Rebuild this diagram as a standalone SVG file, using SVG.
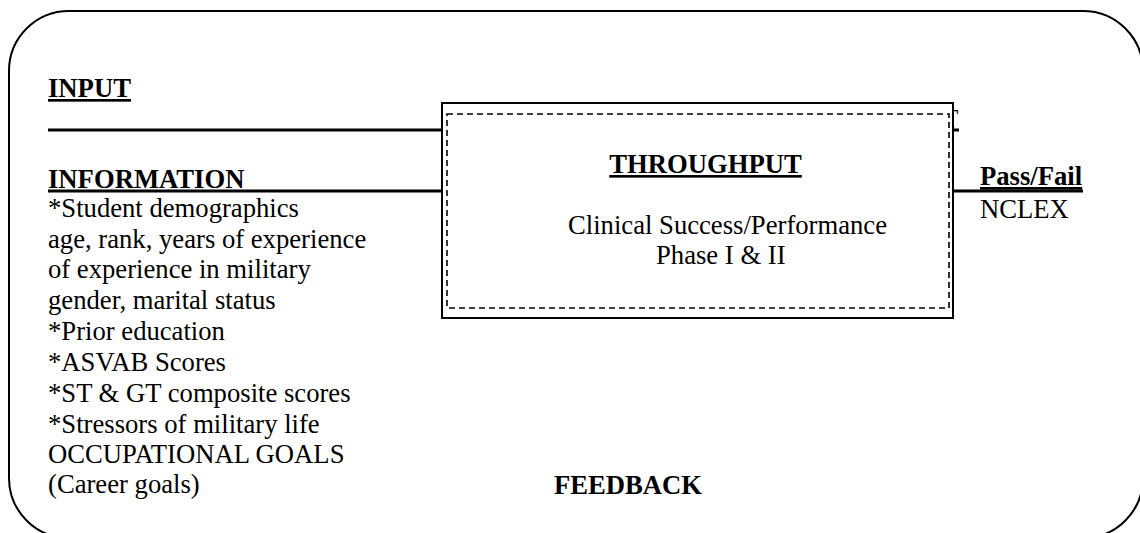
<svg xmlns="http://www.w3.org/2000/svg" width="1140" height="533" viewBox="0 0 1140 533" font-family="'Liberation Serif', 'Times New Roman', serif" font-size="26.67">
<style>
text{font-family:'Liberation Serif','Times New Roman',Times,serif;font-size:26.67px;fill:#000}
.b{font-weight:bold}
.u{text-decoration:underline}
.ln{stroke:#000;stroke-width:3;fill:none}
</style>
<rect width="1140" height="533" fill="#fff"/>
<rect id="frame" x="9" y="11" width="1134" height="527" rx="60" ry="60" fill="none" stroke="#000" stroke-width="2"/>
<g id="connectors">
<line class="ln" x1="48" y1="130" x2="959" y2="130"/>
<line class="ln" x1="48" y1="191" x2="442" y2="191"/>
<line class="ln" x1="953" y1="191" x2="1083" y2="191"/>
</g>
<text x="942" y="127.5">T</text>
<g id="input">
<text class="b u" x="48" y="97">INPUT</text>
<text class="b" x="48" y="188">INFORMATION</text>
<text x="48" y="217">*Student demographics</text>
<text x="48" y="247.5">age, rank, years of experience</text>
<text x="48" y="278">of experience in military</text>
<text x="48" y="309">gender, marital status</text>
<text x="48" y="340">*Prior education</text>
<text x="48" y="371">*ASVAB Scores</text>
<text x="48" y="402">*ST &amp; GT composite scores</text>
<text x="48" y="432.5">*Stressors of military life</text>
<text x="48" y="463">OCCUPATIONAL GOALS</text>
<text x="48" y="493">(Career goals)</text>
</g>
<g id="throughput">
<rect x="442" y="103" width="511" height="215" fill="#fff" stroke="#000" stroke-width="2"/>
<rect x="447" y="114" width="502" height="194" fill="none" stroke="#000" stroke-width="1.6" stroke-dasharray="6,4"/>
<text class="b u" x="705.5" y="173" text-anchor="middle">THROUGHPUT</text>
<text x="568" y="234">Clinical Success/Performance</text>
<text x="656" y="264">Phase I &amp; II</text>
</g>
<g id="output">
<text class="b u" x="980" y="185">Pass/Fail</text>
<text x="980" y="218">NCLEX</text>
</g>
<g id="feedback">
<text class="b" x="554" y="494">FEEDBACK</text>
</g>
</svg>
